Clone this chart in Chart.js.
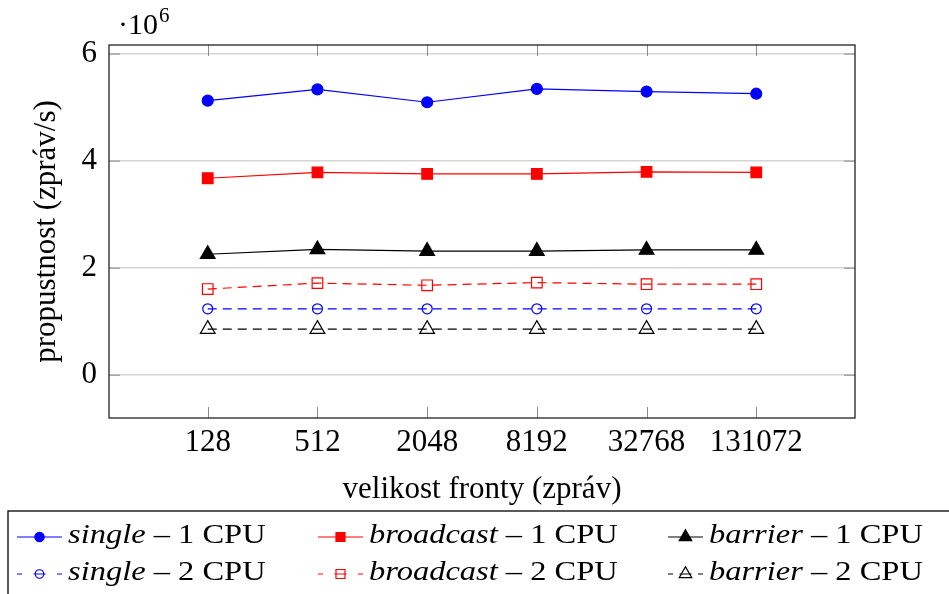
<!DOCTYPE html>
<html>
<head>
<meta charset="utf-8">
<script src="https://cdn.jsdelivr.net/npm/chart.js@4.4.1/dist/chart.umd.min.js"></script>
<style>
  html, body { margin: 0; background: #fff; }
</style>
</head>
<body>
<canvas id="myChart" width="949" height="594"></canvas>
<script>
// queue sizes on the x axis (plotted at index positions)
const queueSizes = ["128", "512", "2048", "8192", "32768", "131072"];
const yTicks = [0, 2, 4, 6];

// throughput, in millions of messages per second
const single1 = [5.13, 5.34, 5.10, 5.35, 5.30, 5.26];
const broadcast1 = [3.68, 3.79, 3.76, 3.76, 3.80, 3.79];
const barrier1 = [2.26, 2.35, 2.32, 2.32, 2.34, 2.34];
const single2 = [1.24, 1.24, 1.24, 1.24, 1.24, 1.24];
const broadcast2 = [1.61, 1.72, 1.68, 1.73, 1.70, 1.70];
const barrier2 = [0.86, 0.86, 0.86, 0.86, 0.86, 0.86];

const seriesNames = ["single", "broadcast", "barrier"];
const cpuLabels = ["1 CPU", "2 CPU"];

const FONT = '"Liberation Serif", "Times New Roman", serif';
const markerRadius = { circle: 5.5, rect: 7.5, triangle: 8.5 };

function toPoints(values) {
  return values.map((v, i) => ({ x: i, y: v }));
}

function makeSeries(name, cpu, values, color, style, filled) {
  return {
    label: name + " – " + cpu,
    seriesName: name,
    cpu: cpu,
    data: toPoints(values),
    borderColor: color,
    backgroundColor: color,
    borderWidth: 1.2,
    borderDash: filled ? [] : [9, 6],
    pointStyle: style,
    pointRadius: style === "circle" && !filled ? 5 : markerRadius[style],
    pointBorderColor: color,
    pointBackgroundColor: filled ? color : "rgba(0,0,0,0)",
    pointBorderWidth: 1.2,
    tension: 0,
    filled: filled
  };
}

// small marker painter for the legend samples
function drawMarker(ctx, style, x, y, r, color, filled) {
  ctx.save();
  ctx.beginPath();
  if (style === "circle") {
    ctx.arc(x, y, r, 0, Math.PI * 2);
  } else if (style === "rect") {
    const s = r * Math.SQRT1_2;
    ctx.rect(x - s, y - s, 2 * s, 2 * s);
  } else {
    for (let k = 0; k < 3; k++) {
      const a = k * 2 * Math.PI / 3;
      const px = x + Math.sin(a) * r, py = y - Math.cos(a) * r;
      if (k === 0) ctx.moveTo(px, py); else ctx.lineTo(px, py);
    }
    ctx.closePath();
  }
  ctx.lineWidth = 1.2;
  ctx.strokeStyle = color;
  if (filled) { ctx.fillStyle = color; ctx.fill(); }
  ctx.stroke();
  ctx.restore();
}

const frameAndLegend = {
  id: "frameAndLegend",
  afterDraw(chart) {
    const ctx = chart.ctx;
    const area = chart.chartArea;
    const xs = chart.scales.x, ys = chart.scales.y;
    ctx.save();

    // inward tick marks
    ctx.strokeStyle = "#8a8a8a";
    ctx.lineWidth = 1;
    ctx.beginPath();
    xs.ticks.forEach(t => {
      const px = Math.round(xs.getPixelForValue(t.value)) + 0.5;
      ctx.moveTo(px, area.bottom); ctx.lineTo(px, area.bottom - 11);
      ctx.moveTo(px, area.top); ctx.lineTo(px, area.top + 11);
    });
    ys.ticks.forEach(t => {
      const py = ys.getPixelForValue(t.value);
      ctx.moveTo(area.left, py); ctx.lineTo(area.left + 11, py);
      ctx.moveTo(area.right, py); ctx.lineTo(area.right - 11, py);
    });
    ctx.stroke();

    // axis frame
    ctx.strokeStyle = "#222";
    ctx.lineWidth = 1.3;
    ctx.strokeRect(area.left, area.top, area.right - area.left, area.bottom - area.top);

    // scale factor above the y axis
    ctx.fillStyle = "#000";
    ctx.textBaseline = "alphabetic";
    ctx.textAlign = "left";
    ctx.font = "30px " + FONT;
    ctx.fillText("·10", 118, 34);
    const w = ctx.measureText("·10").width;
    ctx.font = "21px " + FONT;
    ctx.fillText("6", 118 + w + 1, 22);

    // legend box
    ctx.strokeStyle = "#000";
    ctx.lineWidth = 1.3;
    ctx.strokeRect(8, 511, 960, 100);

    const cols = [17, 318, 668];
    const lineLen = [45, 45, 35];
    const rows = [537, 574];
    const stretch = 1.16;
    chart.data.datasets.forEach((ds, k) => {
      const row = Math.floor(k / 3), col = k % 3;
      const x0 = cols[col], y = rows[row], len = lineLen[col];
      ctx.save();
      ctx.strokeStyle = ds.borderColor;
      ctx.lineWidth = 1.2;
      if (!ds.filled) ctx.setLineDash([5, len / 2 - 11, 12, len / 2 - 11, 5]);
      ctx.beginPath();
      ctx.moveTo(x0, y); ctx.lineTo(x0 + len, y);
      ctx.stroke();
      ctx.restore();
      drawMarker(ctx, ds.pointStyle, x0 + len / 2, y, ds.pointRadius * 0.85, ds.borderColor, ds.filled);

      // italic series name, upright CPU count, slightly widened
      ctx.save();
      ctx.translate(x0 + len + 6, y + 6);
      ctx.scale(stretch, 1);
      ctx.fillStyle = "#000";
      ctx.font = "italic 28px " + FONT;
      ctx.fillText(ds.seriesName, 0, 0);
      const nw = ctx.measureText(ds.seriesName).width;
      ctx.font = "28px " + FONT;
      ctx.fillText(" – " + ds.cpu, nw, 0);
      ctx.restore();
    });
    ctx.restore();
  }
};

const ctx = document.getElementById("myChart").getContext("2d");
const myChart = new Chart(ctx, {
  type: "line",
  data: {
    datasets: [
      makeSeries(seriesNames[0], cpuLabels[0], single1, "#0000ff", "circle", true),
      makeSeries(seriesNames[1], cpuLabels[0], broadcast1, "#ff0000", "rect", true),
      makeSeries(seriesNames[2], cpuLabels[0], barrier1, "#000000", "triangle", true),
      makeSeries(seriesNames[0], cpuLabels[1], single2, "#0000ff", "circle", false),
      makeSeries(seriesNames[1], cpuLabels[1], broadcast2, "#ff0000", "rect", false),
      makeSeries(seriesNames[2], cpuLabels[1], barrier2, "#000000", "triangle", false)
    ]
  },
  options: {
    responsive: false,
    animation: false,
    devicePixelRatio: 1,
    layout: { padding: { left: 0, top: 45, right: 94, bottom: 86 } },
    plugins: {
      legend: { display: false },
      tooltip: { enabled: false }
    },
    scales: {
      x: {
        type: "linear",
        min: -0.9,
        max: 5.9,
        afterBuildTicks: scale => { scale.ticks = queueSizes.map((_, i) => ({ value: i })); },
        afterFit: scale => { scale.height = 90; },
        grid: { display: false },
        border: { display: false },
        ticks: {
          callback: v => queueSizes[v],
          autoSkip: false,
          maxRotation: 0,
          padding: 1,
          color: "#000",
          font: { family: FONT, size: 31, lineHeight: 1 }
        },
        title: {
          display: true,
          text: "velikost fronty (zpráv)",
          color: "#000",
          font: { family: FONT, size: 31, lineHeight: 1 },
          padding: { top: 0, bottom: 3 }
        }
      },
      y: {
        min: -0.8,
        max: 6.17,
        afterBuildTicks: scale => { scale.ticks = yTicks.map(v => ({ value: v })); },
        afterFit: scale => { scale.width = 109; },
        grid: { color: "#d4d4d4", lineWidth: 1.6, drawTicks: false },
        border: { display: false },
        ticks: {
          padding: 12,
          color: "#000",
          font: { family: FONT, size: 31 }
        },
        title: {
          display: true,
          text: "propustnost (zpráv/s)",
          color: "#000",
          font: { family: FONT, size: 31, lineHeight: 1.2 },
          padding: { top: 28, bottom: 0 }
        }
      }
    }
  },
  plugins: [frameAndLegend]
});
</script>
</body>
</html>
